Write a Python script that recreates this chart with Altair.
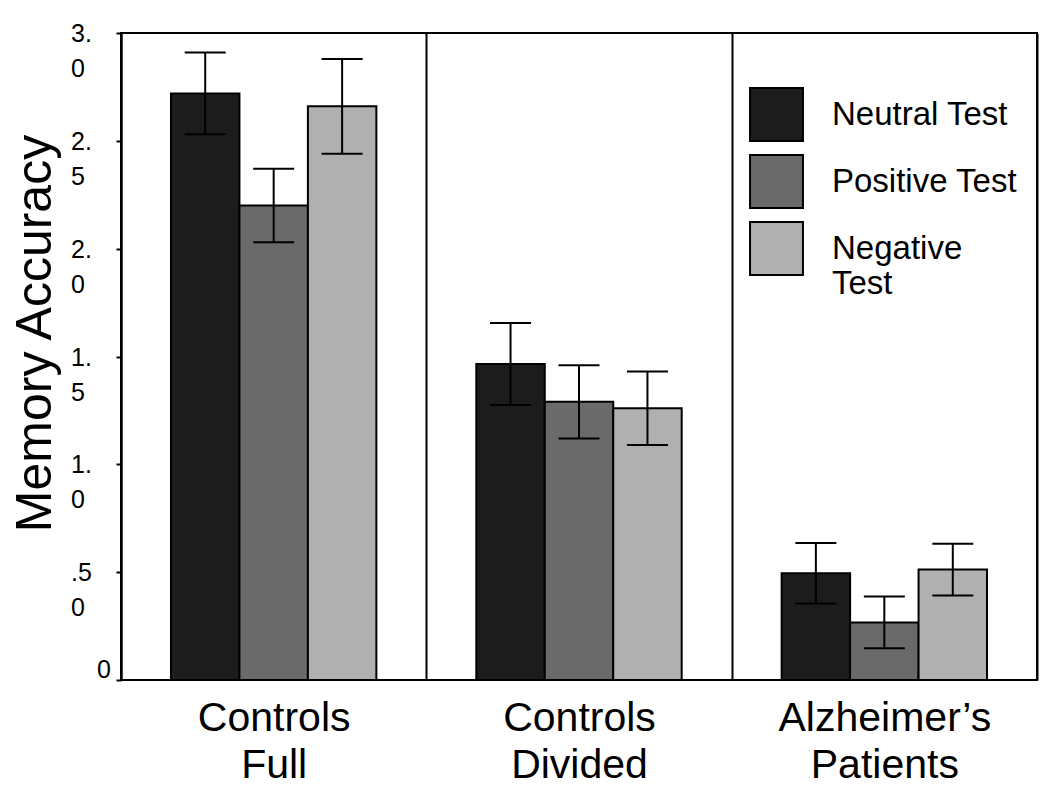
import altair as alt
import pandas as pd

groups = ["Controls Full", "Controls Divided", "Alzheimer’s Patients"]
tests = ["Neutral Test", "Positive Test", "Negative Test"]
colors = ["#1c1c1c", "#6a6a6a", "#b0b0b0"]

means = {
    "Controls Full": [2.72, 2.20, 2.66],
    "Controls Divided": [1.465, 1.29, 1.26],
    "Alzheimer’s Patients": [0.495, 0.267, 0.512],
}
sems = {
    "Controls Full": [0.19, 0.17, 0.22],
    "Controls Divided": [0.19, 0.17, 0.17],
    "Alzheimer’s Patients": [0.14, 0.12, 0.12],
}

tick_values = [0.5, 1.0, 1.5, 2.0, 2.5, 3.0]
tick_labels = [".5\n0", "1.\n0", "1.\n5", "2.\n0", "2.\n5", "3.\n0"]
zero_label = "0"

rows = []
for g in groups:
    for t, m, s in zip(tests, means[g], sems[g]):
        rows.append({"group": g, "test": t, "mean": m, "lo": m - s, "hi": m + s})
df = pd.DataFrame(rows)

ticks_df = pd.DataFrame({"v": tick_values, "label": tick_labels})
zero_df = pd.DataFrame({"v": [0.0], "label": [zero_label]})

FONT = "Liberation Sans"

x_enc = alt.X(
    "group:N",
    sort=groups,
    title=None,
    scale=alt.Scale(paddingInner=0, paddingOuter=0),
    axis=alt.Axis(
        labelExpr="split(datum.label, ' ')",
        labelFontSize=41,
        labelLineHeight=47,
        labelColor="black",
        labelPadding=18,
        labelAngle=0,
        labelBaseline="top",
        labelLimit=600,
        ticks=False,
        domain=False,
        grid=True,
        tickBand="extent",
        gridColor="black",
        gridWidth=2,
        gridOpacity=1,
    ),
)
xoff = alt.XOffset(
    "test:N", sort=tests, scale=alt.Scale(paddingInner=0, paddingOuter=0.73)
)
y_enc = alt.Y(
    "mean:Q",
    scale=alt.Scale(domain=[0, 3], nice=False),
    axis=alt.Axis(
        title="Memory Accuracy",
        titleFontSize=50,
        titleFontWeight="normal",
        titleColor="black",
        titleX=-71,
        titleY=300,
        titleAngle=270,
        titleAlign="center",
        titleBaseline="alphabetic",
        values=[0, 0.5, 1.0, 1.5, 2.0, 2.5, 3.0],
        labels=False,
        tickSize=5,
        tickColor="black",
        tickWidth=2,
        domainColor="black",
        domainWidth=2,
        grid=False,
    ),
)

bars = alt.Chart(df).mark_bar(stroke="black", strokeWidth=2).encode(
    x=x_enc,
    xOffset=xoff,
    y=y_enc,
    color=alt.Color(
        "test:N",
        sort=tests,
        scale=alt.Scale(domain=tests, range=colors),
        legend=alt.Legend(
            title=None,
            orient="none",
            legendX=628,
            legendY=54,
            padding=0,
            symbolType="square",
            symbolSize=2800,
            symbolStrokeColor="black",
            symbolStrokeWidth=2,
            symbolOpacity=1,
            labelFontSize=33,
            labelColor="black",
            labelOffset=28,
            labelLimit=400,
            rowPadding=6,
            labelExpr="datum.label == 'Negative Test' ? ['Negative', 'Test'] : datum.label",
        ),
    ),
)

rules = alt.Chart(df).mark_rule(color="black", strokeWidth=2).encode(
    x=alt.X("group:N", sort=groups),
    xOffset=alt.XOffset("test:N", sort=tests),
    y="lo:Q",
    y2="hi:Q",
)
caps_lo = alt.Chart(df).mark_tick(color="black", thickness=2, size=41, opacity=1).encode(
    x=alt.X("group:N", sort=groups),
    xOffset=alt.XOffset("test:N", sort=tests),
    y="lo:Q",
)
caps_hi = alt.Chart(df).mark_tick(color="black", thickness=2, size=41, opacity=1).encode(
    x=alt.X("group:N", sort=groups),
    xOffset=alt.XOffset("test:N", sort=tests),
    y="hi:Q",
)

ylabels = alt.Chart(ticks_df).mark_text(
    align="left", baseline="alphabetic", dy=9, fontSize=25, lineBreak="\n",
    lineHeight=35, color="black", font=FONT,
).encode(x=alt.value(-50), y="v:Q", text="label:N")

zlabel = alt.Chart(zero_df).mark_text(
    align="right", baseline="alphabetic", dy=-2, fontSize=25, color="black", font=FONT,
).encode(x=alt.value(-10), y="v:Q", text="label:N")

chart = (
    alt.layer(bars, rules, caps_lo, caps_hi, ylabels, zlabel)
    .properties(width=916, height=647, padding={"top": 14, "left": 2, "right": 5, "bottom": 5})
    .configure(font=FONT)
    .configure_view(stroke="black", strokeWidth=2)
    .configure_axis(labelFont=FONT, titleFont=FONT)
    .configure_legend(labelFont=FONT)
)

chart.save("out.html", embed_options={"renderer": "svg", "actions": False})
